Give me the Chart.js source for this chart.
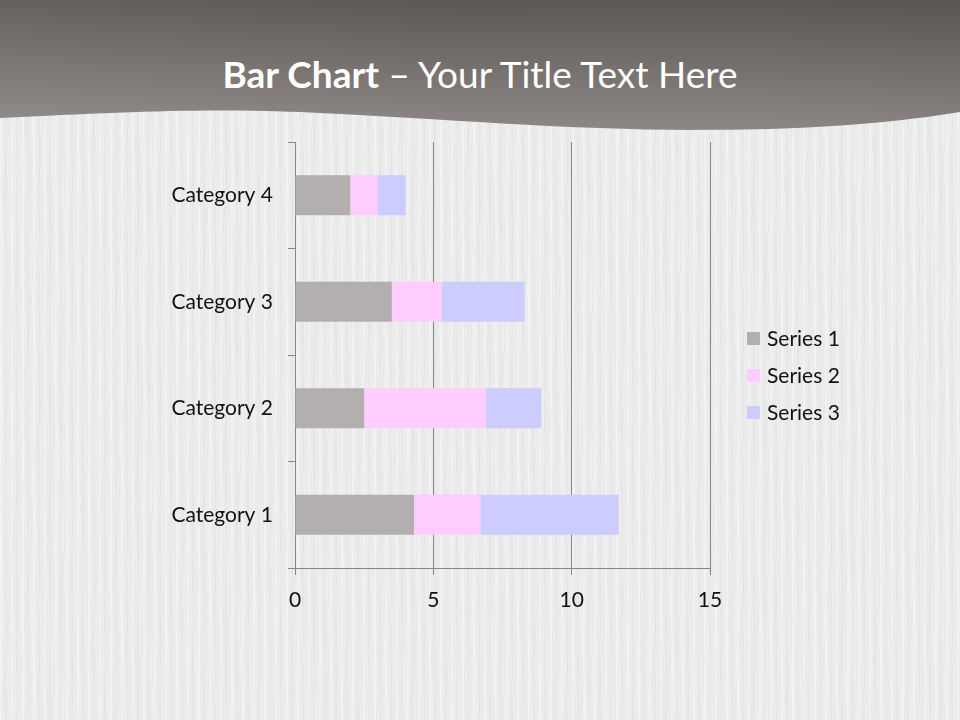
<!DOCTYPE html>
<html>
<head>
<meta charset="utf-8">
<script src="https://cdn.jsdelivr.net/npm/chart.js@4/dist/chart.umd.min.js"></script>
<style>
  html, body { margin: 0; padding: 0; width: 960px; height: 720px; overflow: hidden; }
  body {
    position: relative;
    background-color: #ebebeb;
    background-image:
      repeating-linear-gradient(90deg, rgba(255,255,255,0.30) 0px, rgba(255,255,255,0.30) 2px, rgba(0,0,0,0) 2px, rgba(0,0,0,0) 5px, rgba(0,0,0,0.018) 5px, rgba(0,0,0,0.018) 7px, rgba(0,0,0,0) 7px, rgba(0,0,0,0) 11px),
      repeating-linear-gradient(94deg, rgba(0,0,0,0.015) 0px, rgba(0,0,0,0.015) 1px, rgba(0,0,0,0) 1px, rgba(0,0,0,0) 17px),
      repeating-linear-gradient(87deg, rgba(255,255,255,0.25) 0px, rgba(255,255,255,0.25) 1px, rgba(0,0,0,0) 1px, rgba(0,0,0,0) 9px);
    font-family: Lato, "Open Sans", sans-serif;
  }
  #bg { position: absolute; left: 0; top: 0; }
  #title {
    position: absolute; left: 0; top: 48px; width: 960px; text-align: center;
    color: #ffffff; font-size: 37px; line-height: 52px; white-space: nowrap;
  }
  #title b { font-weight: 700; }
  #chartWrap { position: absolute; left: 0; top: 0; width: 960px; height: 720px; }
  #legend { position: absolute; left: 747px; top: 323px; }
  .li { position: relative; height: 37px; font-size: 21px; color: #111111; line-height: 30px; }
  .sw { position: absolute; left: 0; top: 9px; width: 13px; height: 13px; }
  .lt { position: absolute; left: 20px; top: 0; white-space: nowrap; }
</style>
</head>
<body>
<svg id="bg" width="960" height="720" xmlns="http://www.w3.org/2000/svg">
  <defs>
    <linearGradient id="hg" x1="0" y1="0" x2="0" y2="1">
      <stop offset="0" stop-color="#5c5755"/>
      <stop offset="1" stop-color="#8d8886"/>
    </linearGradient>
    <linearGradient id="hg2" x1="0" y1="0" x2="1" y2="0">
      <stop offset="0" stop-color="#ffffff" stop-opacity="0.06"/>
      <stop offset="0.5" stop-color="#ffffff" stop-opacity="0"/>
      <stop offset="1" stop-color="#000000" stop-opacity="0.03"/>
    </linearGradient>
  </defs>
  <path d="M0,0 H960 V112 C 880,125 800,130 690,130 C 560,130 420,117 300,112 C 200,108 120,112 0,118 Z" fill="url(#hg)"/>
  <path d="M0,0 H960 V112 C 880,125 800,130 690,130 C 560,130 420,117 300,112 C 200,108 120,112 0,118 Z" fill="url(#hg2)"/>
</svg>
<div id="title"><b>Bar Chart</b> – Your Title Text Here</div>
<div id="chartWrap"><canvas id="c" width="960" height="720"></canvas></div>
<div id="legend"></div>
<script>
const categories = ['Category 1', 'Category 2', 'Category 3', 'Category 4'];
const seriesNames = ['Series 1', 'Series 2', 'Series 3'];
const series1 = [4.3, 2.5, 3.5, 2.0];
const series2 = [2.4, 4.4, 1.8, 1.0];
const series3 = [5.0, 2.0, 3.0, 1.0];
const xTicks = [0, 5, 10, 15];
const colors = ['#b3afae', '#ffccff', '#ccccff'];

const seriesValues = [series1, series2, series3];
const datasets = seriesNames.map((name, i) => ({
  label: name,
  data: seriesValues[i],
  backgroundColor: colors[i],
  borderWidth: 0,
  categoryPercentage: 0.75,
  barPercentage: 0.5
}));

// legend
const legendEl = document.getElementById('legend');
seriesNames.forEach((name, i) => {
  const d = document.createElement('div');
  d.className = 'li';
  d.innerHTML = '<span class="sw" style="background:' + colors[i] + '"></span><span class="lt">' + name + '</span>';
  legendEl.appendChild(d);
});

const axisColor = '#868686';
const font = { family: 'Lato, "Open Sans", sans-serif', size: 21 };

new Chart(document.getElementById('c'), {
  type: 'bar',
  data: { labels: categories, datasets: datasets },
  options: {
    indexAxis: 'y',
    responsive: false,
    animation: false,
    devicePixelRatio: 1,
    layout: { padding: { left: 0, right: 250, top: 142, bottom: 0 } },
    plugins: { legend: { display: false }, tooltip: { enabled: false }, title: { display: false } },
    scales: {
      x: {
        stacked: true,
        min: xTicks[0],
        max: xTicks[xTicks.length - 1],
        afterFit: s => { s.height = 152; },
        afterBuildTicks: s => { s.ticks = xTicks.map(v => ({ value: v })); },
        ticks: { color: '#111111', font: font, padding: 13, autoSkip: false, maxRotation: 0 },
        grid: { color: axisColor, lineWidth: 1, drawTicks: true, tickLength: 7, tickColor: axisColor },
        border: { display: true, color: axisColor, width: 1 }
      },
      y: {
        stacked: true,
        reverse: true,
        afterFit: s => { s.width = 295; },
        ticks: { color: '#111111', font: font, padding: 15 },
        grid: { drawOnChartArea: false, drawTicks: true, tickLength: 7, color: axisColor, tickColor: axisColor, offset: true },
        border: { display: true, color: axisColor, width: 1 }
      }
    }
  }
});
</script>
</body>
</html>
